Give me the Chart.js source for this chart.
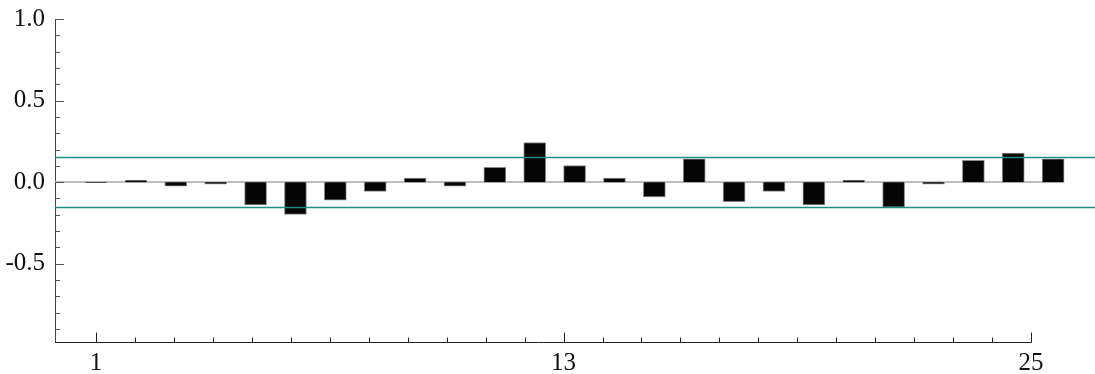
<!DOCTYPE html>
<html>
<head>
<meta charset="utf-8">
<script src="https://cdn.jsdelivr.net/npm/chart.js@4/dist/chart.umd.min.js"></script>
<style>
  html, body { margin: 0; padding: 0; background: #fff; }
  #wrap { width: 1095px; height: 374px; }
</style>
</head>
<body>
<div id="wrap"><canvas id="acf"></canvas></div>
<script>
// lags and autocorrelation values
const lags = [1, 2, 3, 4, 5, 6, 7, 8, 9, 10, 11, 12, 13, 14, 15, 16, 17, 18, 19, 20, 21, 22, 23, 24, 25];
const acfValues = [-0.004, 0.012, -0.025, -0.012, -0.139, -0.198, -0.11, -0.057, 0.025, -0.025,
                   0.09, 0.243, 0.102, 0.025, -0.09, 0.143, -0.12, -0.057, -0.139, 0.012,
                   -0.153, -0.012, 0.133, 0.178, 0.143];
const confLimit = 0.153;
const yTickValues = [-0.5, 0, 0.5, 1.0];
const xTickValues = [1, 13, 25];

const serif = "'Liberation Serif', 'DejaVu Serif', serif";
const teal = 'rgb(34,142,130)';
const barW = 22;

const decor = {
    id: 'acfDecor',
    beforeDatasetsDraw(chart) {
        const ctx = chart.ctx;
        const area = chart.chartArea;
        const x = chart.scales.x, y = chart.scales.y;
        const y0 = Math.round(y.getPixelForValue(0));
        ctx.save();
        ctx.strokeStyle = '#bdbdbd';
        ctx.lineWidth = 2;
        ctx.beginPath();
        ctx.moveTo(area.left, y0);
        ctx.lineTo(x.getPixelForValue(lags[lags.length - 1]) + barW / 2, y0);
        ctx.stroke();
        ctx.restore();
    },
    afterDatasetsDraw(chart) {
        const ctx = chart.ctx;
        const area = chart.chartArea;
        const y = chart.scales.y, xt = chart.scales.xt;
        ctx.save();
        // confidence band lines
        ctx.strokeStyle = teal;
        ctx.lineWidth = 1.4;
        [confLimit, -confLimit].forEach(v => {
            const py = Math.round(y.getPixelForValue(v)) + 0.5;
            ctx.beginPath();
            ctx.moveTo(area.left, py);
            ctx.lineTo(area.right, py);
            ctx.stroke();
        });
        // y ticks pointing inward
        ctx.strokeStyle = '#555';
        ctx.lineWidth = 1;
        for (let i = -9; i <= 10; i++) {
            const v = i / 10;
            const py = Math.round(y.getPixelForValue(v)) + 0.5;
            const len = (i % 5 === 0) ? 9 : 5;
            ctx.beginPath();
            ctx.moveTo(area.left, py);
            ctx.lineTo(area.left + len, py);
            ctx.stroke();
        }
        // x axis line, ends at last labelled tick
        const yb = Math.round(area.bottom) + 0.5;
        const xEnd = xt.getPixelForValue(xTickValues[xTickValues.length - 1]);
        ctx.strokeStyle = '#222';
        ctx.beginPath();
        ctx.moveTo(area.left, yb);
        ctx.lineTo(xEnd + 0.5, yb);
        ctx.stroke();
        for (let v = 1; v <= 25; v++) {
            const px = Math.round(xt.getPixelForValue(v)) + 0.5;
            const len = xTickValues.includes(v) ? 10 : 5;
            ctx.beginPath();
            ctx.moveTo(px, yb);
            ctx.lineTo(px, yb - len);
            ctx.stroke();
        }
        ctx.restore();
    }
};

new Chart(document.getElementById('acf'), {
    type: 'bar',
    data: {
        datasets: [{
            data: lags.map((l, i) => ({ x: l, y: acfValues[i] })),
            backgroundColor: '#050505',
            borderColor: '#8a8a8a',
            borderWidth: 1,
            barThickness: barW
        }]
    },
    options: {
        responsive: true,
        maintainAspectRatio: false,
        animation: false,
        layout: { padding: { top: 19, left: 0, right: 0, bottom: 0 } },
        plugins: { legend: { display: false }, tooltip: { enabled: false } },
        scales: {
            x: {
                type: 'linear',
                offset: false,
                min: -0.03,
                max: 26.05,
                display: false
            },
            xt: {
                type: 'linear',
                axis: 'x',
                offset: false,
                position: 'bottom',
                min: -0.052,
                max: 26.64,
                grid: { display: false, drawTicks: false },
                border: { display: false },
                afterBuildTicks: s => { s.ticks = xTickValues.map(v => ({ value: v })); },
                afterFit: s => { s.height = 32; s.paddingLeft = 0; s.paddingRight = 0; },
                ticks: {
                    padding: 6,
                    color: '#111',
                    font: { family: serif, size: 25 },
                    maxRotation: 0,
                    callback: v => String(v)
                }
            },
            y: {
                min: -0.98,
                max: 1.0,
                grid: { display: false, drawTicks: false },
                border: { display: true, color: '#444', width: 1 },
                afterBuildTicks: s => { s.ticks = yTickValues.map(v => ({ value: v })); },
                afterFit: s => { s.width = 55; s.paddingTop = 0; s.paddingBottom = 0; },
                ticks: {
                    padding: 10,
                    color: '#111',
                    font: { family: serif, size: 25 },
                    callback: v => v.toFixed(1)
                }
            }
        }
    },
    plugins: [decor]
});
</script>
</body>
</html>
